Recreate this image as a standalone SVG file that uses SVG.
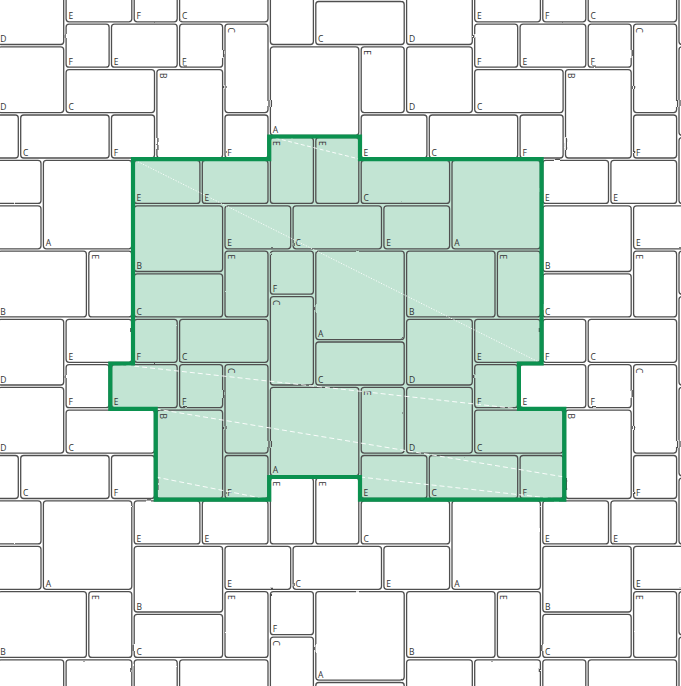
<svg xmlns="http://www.w3.org/2000/svg" xmlns:xlink="http://www.w3.org/1999/xlink" width="681" height="686" viewBox="0 0 681 686">
<style>
.st rect{fill:none;stroke:#505050;stroke-width:1.3;rx:3px;ry:3px;filter:url(#wob)}
.st text{font-family:"Open Sans","Liberation Sans",sans-serif;font-size:8.5px;fill:#333}
.cut{fill:none;stroke:#fff;stroke-width:0.9}
</style>
<defs>
<filter id="wob" x="-10%" y="-10%" width="120%" height="120%" filterUnits="objectBoundingBox">
<feTurbulence type="fractalNoise" baseFrequency="0.06" numOctaves="2" seed="4" result="n"/>
<feDisplacementMap in="SourceGraphic" in2="n" scale="1.8" xChannelSelector="R" yChannelSelector="G"/>
</filter>
</defs>
<rect width="681" height="686" fill="#fff"/>
<g transform="translate(-3.2,0.3)">
<polygon id="area-fill" fill="#c2e4d3" points="136.2,158.9 272.4,158.9 272.4,136.2 363.2,136.2 363.2,158.9 544.8,158.9 544.8,363.2 522.1,363.2 522.1,408.6 567.5,408.6 567.5,499.4 363.2,499.4 363.2,476.7 272.4,476.7 272.4,499.4 158.9,499.4 158.9,408.6 113.5,408.6 113.5,363.2 136.2,363.2"/>
<g id="unit">
<g id="s1" class="st"><rect x="137.4" y="160.1" width="65.7" height="43"/><text x="139.7" y="200.8">E</text></g>
<g id="s2" class="st"><rect x="205.5" y="160.1" width="65.7" height="43"/><text x="207.8" y="200.8">E</text></g>
<g id="s3" class="st"><rect x="273.6" y="137.4" width="43" height="65.7"/><text transform="translate(276.4,140.7) rotate(90)">E</text></g>
<g id="s4" class="st"><rect x="319" y="137.4" width="43" height="65.7"/><text transform="translate(321.8,140.7) rotate(90)">E</text></g>
<g id="s5" class="st"><rect x="364.4" y="160.1" width="88.4" height="43"/><text x="366.7" y="200.8">C</text></g>
<g id="s6" class="st"><rect x="455.2" y="160.1" width="88.4" height="88.4"/><text x="457.5" y="246.2">A</text></g>
<g id="s7" class="st"><rect x="137.4" y="205.5" width="88.4" height="65.7"/><text x="139.7" y="268.9">B</text></g>
<g id="s8" class="st"><rect x="228.2" y="205.5" width="65.7" height="43"/><text x="230.5" y="246.2">E</text></g>
<g id="s9" class="st"><rect x="296.3" y="205.5" width="88.4" height="43"/><text x="298.6" y="246.2">C</text></g>
<g id="s10" class="st"><rect x="387.1" y="205.5" width="65.7" height="43"/><text x="389.4" y="246.2">E</text></g>
<g id="s11" class="st"><rect x="228.2" y="250.9" width="43" height="65.7"/><text transform="translate(231,254.2) rotate(90)">E</text></g>
<g id="s12" class="st"><rect x="273.6" y="250.9" width="43" height="43"/><text x="275.9" y="291.6">F</text></g>
<g id="s13" class="st"><rect x="319" y="250.9" width="88.4" height="88.4"/><text x="321.3" y="337">A</text></g>
<g id="s14" class="st"><rect x="409.8" y="250.9" width="88.4" height="65.7"/><text x="412.1" y="314.3">B</text></g>
<g id="s15" class="st"><rect x="500.6" y="250.9" width="43" height="65.7"/><text transform="translate(503.4,254.2) rotate(90)">E</text></g>
<g id="s16" class="st"><rect x="137.4" y="273.6" width="88.4" height="43"/><text x="139.7" y="314.3">C</text></g>
<g id="s17" class="st"><rect x="273.6" y="296.3" width="43" height="88.4"/><text transform="translate(276.4,299.6) rotate(90)">C</text></g>
<g id="s18" class="st"><rect x="137.4" y="319" width="43" height="43"/><text x="139.7" y="359.7">F</text></g>
<g id="s19" class="st"><rect x="182.8" y="319" width="88.4" height="43"/><text x="185.1" y="359.7">C</text></g>
<g id="s20" class="st"><rect x="409.8" y="319" width="65.7" height="65.7"/><text x="412.1" y="382.4">D</text></g>
<g id="s21" class="st"><rect x="477.9" y="319" width="65.7" height="43"/><text x="480.2" y="359.7">E</text></g>
<g id="s22" class="st"><rect x="319" y="341.7" width="88.4" height="43"/><text x="321.3" y="382.4">C</text></g>
<g id="s23" class="st"><rect x="114.7" y="364.4" width="65.7" height="43"/><text x="117" y="405.1">E</text></g>
<g id="s24" class="st"><rect x="182.8" y="364.4" width="43" height="43"/><text x="185.1" y="405.1">F</text></g>
<g id="s25" class="st"><rect x="228.2" y="364.4" width="43" height="88.4"/><text transform="translate(231,367.7) rotate(90)">C</text></g>
<g id="s26" class="st"><rect x="477.9" y="364.4" width="43" height="43"/><text x="480.2" y="405.1">F</text></g>
<g id="s27" class="st"><rect x="273.6" y="387.1" width="88.4" height="88.4"/><text x="275.9" y="473.2">A</text></g>
<g id="s28" class="st"><rect x="364.4" y="387.1" width="43" height="65.7"/><text transform="translate(367.2,390.4) rotate(90)">E</text></g>
<g id="s29" class="st"><rect x="409.8" y="387.1" width="65.7" height="65.7"/><text x="412.1" y="450.5">D</text></g>
<g id="s30" class="st"><rect x="160.1" y="409.8" width="65.7" height="88.4"/><text transform="translate(162.9,413.1) rotate(90)">B</text></g>
<g id="s31" class="st"><rect x="477.9" y="409.8" width="88.4" height="43"/><text x="480.2" y="450.5">C</text></g>
<g id="s32" class="st"><rect x="228.2" y="455.2" width="43" height="43"/><text x="230.5" y="495.9">F</text></g>
<g id="s33" class="st"><rect x="364.4" y="455.2" width="65.7" height="43"/><text x="366.7" y="495.9">E</text></g>
<g id="s34" class="st"><rect x="432.5" y="455.2" width="88.4" height="43"/><text x="434.8" y="495.9">C</text></g>
<g id="s35" class="st"><rect x="523.3" y="455.2" width="43" height="43"/><text x="525.6" y="495.9">F</text></g>
</g>
<g id="repeats">
<use xlink:href="#unit" href="#unit" transform="translate(-408.6,-340.5)"/>
<use xlink:href="#unit" href="#unit" transform="translate(0,-340.5)"/>
<use xlink:href="#unit" href="#unit" transform="translate(408.6,-340.5)"/>
<use xlink:href="#unit" href="#unit" transform="translate(-408.6,0)"/>
<use xlink:href="#unit" href="#unit" transform="translate(408.6,0)"/>
<use xlink:href="#unit" href="#unit" transform="translate(-408.6,340.5)"/>
<use xlink:href="#unit" href="#unit" transform="translate(0,340.5)"/>
<use xlink:href="#unit" href="#unit" transform="translate(408.6,340.5)"/>
</g>
<g id="connectors">
<line class="cut" x1="136.2" y1="158.9" x2="544.8" y2="363.2" stroke-dasharray="1.2 1.6"/>
<line class="cut" x1="272.4" y1="136.2" x2="363.2" y2="158.9" stroke-dasharray="4 2.5"/>
<line class="cut" x1="113.5" y1="363.2" x2="522.1" y2="408.6" stroke-dasharray="5 3"/>
<line class="cut" x1="158.9" y1="408.6" x2="567.5" y2="476.7" stroke-dasharray="5 3"/>
<line class="cut" x1="158.9" y1="476.7" x2="272.4" y2="499.4" stroke-dasharray="5 3"/>
<line class="cut" x1="363.2" y1="476.7" x2="567.5" y2="499.4" stroke-dasharray="5 3"/>
</g>
<polygon id="area-outline" fill="none" stroke="#0b914f" stroke-width="4.2" stroke-linejoin="miter" points="136.2,158.9 272.4,158.9 272.4,136.2 363.2,136.2 363.2,158.9 544.8,158.9 544.8,363.2 522.1,363.2 522.1,408.6 567.5,408.6 567.5,499.4 363.2,499.4 363.2,476.7 272.4,476.7 272.4,499.4 158.9,499.4 158.9,408.6 113.5,408.6 113.5,363.2 136.2,363.2"/>
</g>
</svg>
